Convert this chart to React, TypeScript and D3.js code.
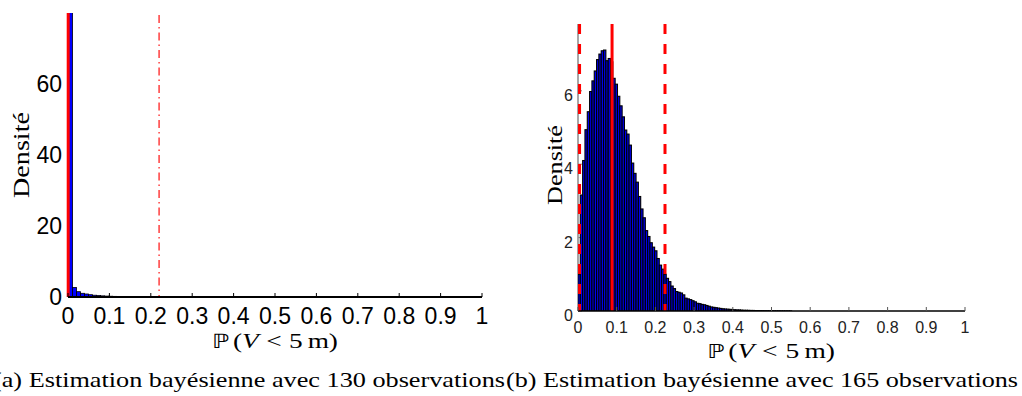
import React from "react";
import * as d3 from "d3";

// ---------- data ----------
const xTicks = [0, 0.1, 0.2, 0.3, 0.4, 0.5, 0.6, 0.7, 0.8, 0.9, 1];
const xTickLabels = ["0", "0.1", "0.2", "0.3", "0.4", "0.5", "0.6", "0.7", "0.8", "0.9", "1"];

// (a) 130 observations
const leftBinStart = 0.0012;
const leftBinWidth = 0.0097;
const leftDensity = [
  95, 2.7, 1.5, 1.04, 0.85, 0.65, 0.5, 0.4, 0.32, 0.26, 0.22, 0.18, 0.15, 0.13, 0.11,
  0.09, 0.08, 0.07, 0.06, 0.05, 0.045, 0.04, 0.035, 0.03, 0.025, 0.02, 0.02, 0.015, 0.015, 0.01,
];
const leftYTicks = [0, 20, 40, 60];
const leftEstimate = 0.0005;
const leftUpper = 0.22;

// (b) 165 observations
const rightBinStart = 0;
const rightBinWidth = 0.006;
const rightDensity = [
  1.0, 3.16, 4.1, 4.94, 5.43, 5.98, 6.27, 6.54, 6.85, 7.0, 7.09, 7.11, 6.82, 6.88, 6.79,
  6.34, 6.18, 5.85, 5.59, 5.29, 4.93, 4.82, 4.52, 4.03, 3.75, 3.51, 3.12, 2.78, 2.54, 2.19,
  2.03, 1.86, 1.74, 1.64, 1.43, 1.25, 1.14, 1.0, 0.89, 0.8, 0.68, 0.61, 0.53, 0.51, 0.49,
  0.44, 0.35, 0.33, 0.31, 0.28, 0.25, 0.21, 0.2, 0.18, 0.17, 0.15, 0.13, 0.11, 0.1, 0.09,
  0.08, 0.07, 0.06, 0.055, 0.05, 0.045, 0.04, 0.035, 0.03, 0.03, 0.025, 0.02, 0.02, 0.018,
  0.015, 0.015, 0.012, 0.012, 0.01, 0.01, 0.008, 0.007, 0.006, 0.005, 0.005, 0.004, 0.004,
  0.003, 0.003, 0.002, 0.002, 0.002,
];
const rightYTicks = [0, 2, 4, 6];
const rightLower = 0.004;
const rightEstimate = 0.088;
const rightUpper = 0.2248;

const captionA = "(a) Estimation bayésienne avec 130 observations";
const captionB = "(b) Estimation bayésienne avec 165 observations";
const yLabel = "Densité";

const SANS = "'Liberation Sans', Arial, Helvetica, sans-serif";
const SERIF = "'Times New Roman', Times, 'Liberation Serif', 'Nimbus Roman', serif";

function MathLabel({ x, y, size, width }: { x: number; y: number; size: number; width: number }) {
  return (
    <text
      x={x - width / 2}
      y={y}
      fontFamily={SERIF}
      fontSize={size}
      fill="#000"
      textLength={width}
      lengthAdjust="spacingAndGlyphs"
    >
      <tspan fontFamily="'DejaVu Sans', sans-serif" fontSize={size * 0.9}>ℙ</tspan>
      <tspan dx={3}>(</tspan>
      <tspan fontStyle="italic">V</tspan>
      <tspan dx={6}>&lt;</tspan>
      <tspan dx={6}>5</tspan>
      <tspan dx={4}>m)</tspan>
    </text>
  );
}

export default function App() {
  // left chart scales
  const lx = d3.scaleLinear().domain([0, 1]).range([68, 482]);
  const ly = d3.scaleLinear().domain([0, 80]).range([297, 13]);
  // right chart scales
  const rx = d3.scaleLinear().domain([0, 1]).range([578, 965]);
  const ry = d3.scaleLinear().domain([0, 7.82]).range([311, 24]);

  const leftBars = leftDensity.map((v, i) => {
    const x0 = leftBinStart + i * leftBinWidth;
    return { x0, x1: x0 + leftBinWidth, v };
  });
  const rightBars = rightDensity.map((v, i) => {
    const x0 = rightBinStart + i * rightBinWidth;
    return { x0, x1: x0 + rightBinWidth, v };
  });

  return (
    <svg
      width={1022}
      height={396}
      style={{ position: "absolute", left: 0, top: 0, background: "#fff" }}
    >
      <defs>
        <clipPath id="clipL">
          <rect x={lx(0)} y={ly(80)} width={lx(1) - lx(0)} height={ly(0) - ly(80)} />
        </clipPath>
        <clipPath id="clipR">
          <rect x={rx(0)} y={ry(7.82)} width={rx(1) - rx(0)} height={ry(0) - ry(7.82)} />
        </clipPath>
      </defs>
      <rect x={0} y={0} width={1022} height={396} fill="#fff" />

      {/* ================= LEFT CHART ================= */}
      <g clipPath="url(#clipL)">
        {leftBars.map((b, i) => (
          <rect
            key={i}
            x={lx(b.x0)}
            y={ly(b.v)}
            width={lx(b.x1) - lx(b.x0)}
            height={ly(0) - ly(b.v)}
            fill="#0000ff"
            stroke="#000"
            strokeWidth={0.8}
          />
        ))}
        <line
          x1={lx(leftUpper)}
          x2={lx(leftUpper)}
          y1={ly(80) + 2}
          y2={ly(0)}
          stroke="#ff2020"
          strokeWidth={1.3}
          strokeDasharray="8 4 1.5 4"
        />
      </g>
      <line
        x1={lx(leftEstimate)}
        x2={lx(leftEstimate)}
        y1={ly(80)}
        y2={ly(0)}
        stroke="#ff0000"
        strokeWidth={3}
      />
      {/* x axis */}
      <line x1={lx(0)} x2={lx(1)} y1={ly(0)} y2={ly(0)} stroke="#000" strokeWidth={2} />
      {xTicks.map((t, i) => (
        <g key={i}>
          <line x1={lx(t)} x2={lx(t)} y1={ly(0)} y2={ly(0) - 4} stroke="#000" strokeWidth={1} />
          <text
            x={lx(t)}
            y={ly(0) + 27}
            textAnchor="middle"
            fontFamily={SANS}
            fontSize={23}
            fill="#000"
          >
            {xTickLabels[i]}
          </text>
        </g>
      ))}
      {leftYTicks.map((t, i) => (
        <text
          key={i}
          x={lx(0) - 6}
          y={ly(t) + 8}
          textAnchor="end"
          fontFamily={SANS}
          fontSize={23}
          fill="#000"
        >
          {t}
        </text>
      ))}
      <text
        transform={`translate(29,155) rotate(-90)`}
        x={-43}
        fontFamily={SERIF}
        fontSize={23}
        fill="#000"
        textLength={86}
        lengthAdjust="spacingAndGlyphs"
      >
        {yLabel}
      </text>
      <MathLabel x={275} y={348} size={22} width={126} />

      {/* ================= RIGHT CHART ================= */}
      <line x1={rx(0)} x2={rx(0)} y1={ry(7.82)} y2={ry(0)} stroke="#888" strokeWidth={1.5} />
      {rightYTicks.map((t, i) => (
        <g key={i}>
          <line x1={rx(0)} x2={rx(0) + 4} y1={ry(t)} y2={ry(t)} stroke="#888" strokeWidth={1} />
          <text
            x={rx(0) - 5}
            y={ry(t) + 10}
            textAnchor="end"
            fontFamily={SANS}
            fontSize={16}
            fill="#222"
          >
            {t}
          </text>
        </g>
      ))}
      <g clipPath="url(#clipR)">
        {rightBars.map((b, i) => (
          <rect
            key={i}
            x={rx(b.x0)}
            y={ry(b.v)}
            width={rx(b.x1) - rx(b.x0)}
            height={ry(0) - ry(b.v)}
            fill="#0000ee"
            stroke="#000"
            strokeWidth={1.1}
          />
        ))}
      </g>
      <line
        x1={rx(rightLower)}
        x2={rx(rightLower)}
        y1={ry(7.82)}
        y2={ry(0)}
        stroke="#ff0000"
        strokeWidth={3}
        strokeDasharray="10 10"
      />
      <line
        x1={rx(rightUpper)}
        x2={rx(rightUpper)}
        y1={ry(7.82)}
        y2={ry(0)}
        stroke="#ff0000"
        strokeWidth={3}
        strokeDasharray="10 10"
      />
      <line
        x1={rx(rightEstimate)}
        x2={rx(rightEstimate)}
        y1={ry(7.82)}
        y2={ry(0)}
        stroke="#ff0000"
        strokeWidth={3}
      />
      <line x1={rx(0)} x2={rx(1)} y1={ry(0)} y2={ry(0)} stroke="#000" strokeWidth={1.5} />
      {xTicks.map((t, i) => (
        <g key={i}>
          <line x1={rx(t)} x2={rx(t)} y1={ry(0)} y2={ry(0) - 4} stroke="#555" strokeWidth={1} />
          <text
            x={rx(t)}
            y={ry(0) + 22}
            textAnchor="middle"
            fontFamily={SANS}
            fontSize={16}
            fill="#222"
          >
            {xTickLabels[i]}
          </text>
        </g>
      ))}
      <text
        transform={`translate(562,165) rotate(-90)`}
        x={-40}
        fontFamily={SERIF}
        fontSize={21}
        fill="#000"
        textLength={80}
        lengthAdjust="spacingAndGlyphs"
      >
        {yLabel}
      </text>
      <MathLabel x={771} y={358} size={21} width={128} />

      {/* ================= CAPTIONS ================= */}
      <text
        x={-7}
        y={387}
        fontFamily={SERIF}
        fontSize={21}
        fill="#000"
        textLength={512}
        lengthAdjust="spacingAndGlyphs"
      >
        {captionA}
      </text>
      <text
        x={506}
        y={387}
        fontFamily={SERIF}
        fontSize={21}
        fill="#000"
        textLength={512}
        lengthAdjust="spacingAndGlyphs"
      >
        {captionB}
      </text>
    </svg>
  );
}
